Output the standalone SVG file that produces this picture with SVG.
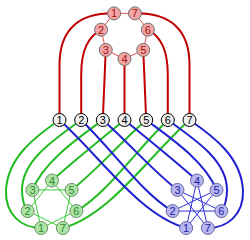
<svg xmlns="http://www.w3.org/2000/svg" width="250" height="240" viewBox="0 0 250 240">
<style>
.cr{fill:none;stroke:#c00000;stroke-width:2}
.cg{fill:none;stroke:#22bb22;stroke-width:2}
.cb{fill:none;stroke:#2020d0;stroke-width:2}
.er{fill:none;stroke:#e05050;stroke-width:1}
.eg{fill:none;stroke:#3ccc3c;stroke-width:1}
.eb{fill:none;stroke:#3030e0;stroke-width:1}
.nm circle{fill:#efefef;stroke:#000;stroke-width:1}
.nr circle{fill:#f2a6a6;stroke:#707070;stroke-width:1}
.ng circle{fill:#aee3a6;stroke:#6a8f6a;stroke-width:1}
.nb circle{fill:#b6b6f2;stroke:#6a6a9a;stroke-width:1}
text{font-family:"Liberation Sans",Arial,sans-serif;font-size:11px;text-anchor:middle;dominant-baseline:central}
.nm text{fill:#000}
.nr text{fill:#a01010}
.ng text{fill:#2a8a2a}
.nb text{fill:#2020a0}
</style>
<g id="connectors">
<path class="cr" d="M114.09,13.38 C78,13 59.5,30 59.5,65 L59.5,120"/>
<path class="cr" d="M101.1,29.66 C88,37 81.2,50 81.2,75 L81.2,120"/>
<path class="cr" d="M105.74,49.96 L102.8,120"/>
<path class="cr" d="M124.5,59 L124.5,120"/>
<path class="cr" d="M143.26,49.96 L146.2,120"/>
<path class="cr" d="M147.9,29.66 C161,37 167.8,50 167.8,75 L167.8,120"/>
<path class="cr" d="M134.91,13.38 C171,13 189.5,30 189.5,65 L189.5,120"/>
<path class="cg" d="M59.5,120 C33,138 8,158 6,190 C5,215 22,228 41.15,228.02"/>
<path class="cg" d="M81.2,120 C50,142 22,162 22,190 C22,200 24,206 27.63,211.06"/>
<path class="cg" d="M102.8,120 C80,137 45,160 32.45,189.91"/>
<path class="cg" d="M124.5,120 C105,136 75,160 52,180.5"/>
<path class="cg" d="M146.2,120 C120,143 95,172 71.55,189.91"/>
<path class="cg" d="M167.8,120 C135,152 105,195 76.37,211.06"/>
<path class="cg" d="M189.5,120 C150,155 110,215 62.85,228.02"/>
<path class="cb" d="M189.5,120 C216,138 241,158 243,190 C244,215 227,228 207.85,228.02"/>
<path class="cb" d="M167.8,120 C199,142 227,162 227,190 C227,200 225,206 221.37,211.06"/>
<path class="cb" d="M146.2,120 C169,137 204,160 216.55,189.91"/>
<path class="cb" d="M124.5,120 C144,136 174,160 197,180.5"/>
<path class="cb" d="M102.8,120 C129,143 154,172 177.45,189.91"/>
<path class="cb" d="M81.2,120 C114,152 144,195 172.63,211.06"/>
<path class="cb" d="M59.5,120 C99,155 139,215 186.15,228.02"/>
</g>
<g id="edges">
<polygon class="er" points="114.09,13.38 101.1,29.66 105.74,49.96 124.5,59 143.26,49.96 147.9,29.66 134.91,13.38"/>
<polygon class="eg" points="41.15,228.02 32.45,189.91 71.55,189.91 62.85,228.02 27.63,211.06 52,180.5 76.37,211.06"/>
<polygon class="eb" points="186.15,228.02 197,180.5 207.85,228.02 177.45,189.91 221.37,211.06 172.63,211.06 216.55,189.91"/>
</g>
<g id="m1" class="nm"><circle cx="59.5" cy="120" r="6.5"/><text x="59.5" y="120">1</text></g>
<g id="m2" class="nm"><circle cx="81.2" cy="120" r="6.5"/><text x="81.2" y="120">2</text></g>
<g id="m3" class="nm"><circle cx="102.8" cy="120" r="6.5"/><text x="102.8" y="120">3</text></g>
<g id="m4" class="nm"><circle cx="124.5" cy="120" r="6.5"/><text x="124.5" y="120">4</text></g>
<g id="m5" class="nm"><circle cx="146.2" cy="120" r="6.5"/><text x="146.2" y="120">5</text></g>
<g id="m6" class="nm"><circle cx="167.8" cy="120" r="6.5"/><text x="167.8" y="120">6</text></g>
<g id="m7" class="nm"><circle cx="189.5" cy="120" r="6.5"/><text x="189.5" y="120">7</text></g>
<g id="r1" class="nr"><circle cx="114.09" cy="13.38" r="6.5"/><text x="114.09" y="13.38">1</text></g>
<g id="r2" class="nr"><circle cx="101.1" cy="29.66" r="6.5"/><text x="101.1" y="29.66">2</text></g>
<g id="r3" class="nr"><circle cx="105.74" cy="49.96" r="6.5"/><text x="105.74" y="49.96">3</text></g>
<g id="r4" class="nr"><circle cx="124.5" cy="59" r="6.5"/><text x="124.5" y="59">4</text></g>
<g id="r5" class="nr"><circle cx="143.26" cy="49.96" r="6.5"/><text x="143.26" y="49.96">5</text></g>
<g id="r6" class="nr"><circle cx="147.9" cy="29.66" r="6.5"/><text x="147.9" y="29.66">6</text></g>
<g id="r7" class="nr"><circle cx="134.91" cy="13.38" r="6.5"/><text x="134.91" y="13.38">7</text></g>
<g id="g1" class="ng"><circle cx="41.15" cy="228.02" r="6.5"/><text x="41.15" y="228.02">1</text></g>
<g id="g2" class="ng"><circle cx="27.63" cy="211.06" r="6.5"/><text x="27.63" y="211.06">2</text></g>
<g id="g3" class="ng"><circle cx="32.45" cy="189.91" r="6.5"/><text x="32.45" y="189.91">3</text></g>
<g id="g4" class="ng"><circle cx="52" cy="180.5" r="6.5"/><text x="52" y="180.5">4</text></g>
<g id="g5" class="ng"><circle cx="71.55" cy="189.91" r="6.5"/><text x="71.55" y="189.91">5</text></g>
<g id="g6" class="ng"><circle cx="76.37" cy="211.06" r="6.5"/><text x="76.37" y="211.06">6</text></g>
<g id="g7" class="ng"><circle cx="62.85" cy="228.02" r="6.5"/><text x="62.85" y="228.02">7</text></g>
<g id="b1" class="nb"><circle cx="186.15" cy="228.02" r="6.5"/><text x="186.15" y="228.02">1</text></g>
<g id="b2" class="nb"><circle cx="172.63" cy="211.06" r="6.5"/><text x="172.63" y="211.06">2</text></g>
<g id="b3" class="nb"><circle cx="177.45" cy="189.91" r="6.5"/><text x="177.45" y="189.91">3</text></g>
<g id="b4" class="nb"><circle cx="197" cy="180.5" r="6.5"/><text x="197" y="180.5">4</text></g>
<g id="b5" class="nb"><circle cx="216.55" cy="189.91" r="6.5"/><text x="216.55" y="189.91">5</text></g>
<g id="b6" class="nb"><circle cx="221.37" cy="211.06" r="6.5"/><text x="221.37" y="211.06">6</text></g>
<g id="b7" class="nb"><circle cx="207.85" cy="228.02" r="6.5"/><text x="207.85" y="228.02">7</text></g>
</svg>
